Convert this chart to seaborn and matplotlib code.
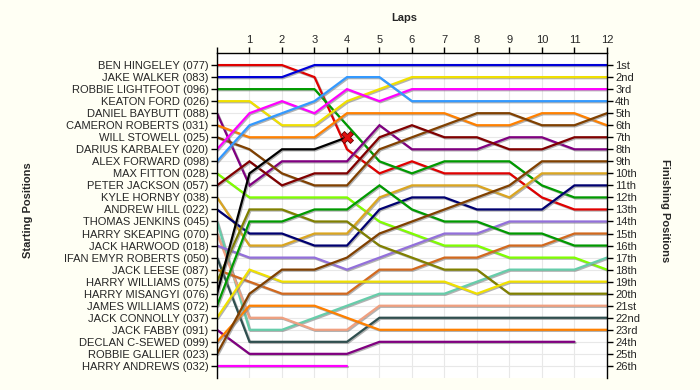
import matplotlib
matplotlib.use("Agg")
import matplotlib.pyplot as plt
import matplotlib.patheffects as pe
import numpy as np
import pandas as pd
import seaborn as sns

laps = list(range(13))

drivers = [
    "BEN HINGELEY (077)", "JAKE WALKER (083)", "ROBBIE LIGHTFOOT (096)", "KEATON FORD (026)",
    "DANIEL BAYBUTT (088)", "CAMERON ROBERTS (031)", "WILL STOWELL (025)", "DARIUS KARBALEY (020)",
    "ALEX FORWARD (098)", "MAX FITTON (028)", "PETER JACKSON (057)", "KYLE HORNBY (038)",
    "ANDREW HILL (022)", "THOMAS JENKINS (045)", "HARRY SKEAPING (070)", "JACK HARWOOD (018)",
    "IFAN EMYR ROBERTS (050)", "JACK LEESE (087)", "HARRY WILLIAMS (075)", "HARRY MISANGYI (076)",
    "JAMES WILLIAMS (072)", "JACK CONNOLLY (037)", "JACK FABBY (091)", "DECLAN C-SEWED (099)",
    "ROBBIE GALLIER (023)", "HARRY ANDREWS (032)",
]

colors = [
    "#e00000", "#0000d8", "#009a00", "#f0e000", "#800080", "#ff8000", "#804000", "#ff00ff",
    "#3399ff", "#80ff00", "#800000", "#daa520", "#000070", "#66cdaa", "#f0a080", "#9370db",
    "#2f4f4f", "#d2691e", "#808000", "#000000", "#009a00", "#f0e000", "#800080", "#ff8000",
    "#804000", "#ff00ff",
]

nan = np.nan
positions = [
    [1, 1, 1, 2, 8, 10, 9, 10, 10, 10, 12, 13, 13],
    [2, 2, 2, 1, 1, 1, 1, 1, 1, 1, 1, 1, 1],
    [3, 3, 3, 3, 6, 9, 10, 9, 9, 9, 11, 12, 12],
    [4, 4, 6, 6, 4, 3, 2, 2, 2, 2, 2, 2, 2],
    [5, 11, 9, 9, 9, 6, 8, 8, 8, 7, 7, 8, 8],
    [6, 7, 7, 7, 5, 5, 5, 5, 6, 6, 5, 5, 6],
    [7, 8, 10, 11, 11, 8, 7, 6, 5, 5, 6, 6, 5],
    [8, 5, 4, 5, 3, 4, 3, 3, 3, 3, 3, 3, 3],
    [9, 6, 5, 4, 2, 2, 4, 4, 4, 4, 4, 4, 4],
    [10, 12, 12, 12, 12, 14, 15, 16, 16, 17, 17, 17, 18],
    [11, 9, 11, 10, 10, 7, 6, 7, 7, 8, 8, 7, 7],
    [12, 16, 16, 15, 15, 12, 11, 11, 11, 12, 10, 10, 10],
    [13, 15, 15, 16, 16, 13, 12, 12, 13, 13, 13, 11, 11],
    [14, 23, 23, 22, 21, 20, 20, 20, 19, 18, 18, 18, 17],
    [15, 22, 22, 23, 23, 21, 21, 21, 21, 21, 21, 21, 21],
    [16, 17, 17, 17, 18, 17, 16, 15, 15, 14, 14, 14, 14],
    [17, 24, 24, 24, 24, 22, 22, 22, 22, 22, 22, 22, 22],
    [18, 19, 20, 20, 20, 18, 18, 17, 17, 16, 16, 15, 15],
    [19, 13, 13, 14, 14, 16, 17, 18, 18, 20, 20, 20, 20],
    [20, 10, 8, 8, 7, nan, nan, nan, nan, nan, nan, nan, nan],
    [21, 14, 14, 13, 13, 11, 13, 14, 14, 15, 15, 16, 16],
    [22, 18, 19, 19, 19, 19, 19, 19, 20, 19, 19, 19, 19],
    [23, 25, 25, 25, 25, 24, 24, 24, 24, 24, 24, 24, nan],
    [24, 21, 21, 21, 22, 23, 23, 23, 23, 23, 23, 23, 23],
    [25, 20, 18, 18, 17, 15, 14, 13, 12, 11, 9, 9, 9],
    [26, 26, 26, 26, 26, nan, nan, nan, nan, nan, nan, nan, nan],
]

finish_labels = ["1st", "2nd", "3rd"] + [f"{i}th" for i in range(4, 21)] + \
    ["21st", "22nd", "23rd", "24th", "25th", "26th"]

# retired driver marked with a cross on the last lap he completed
crash_driver = "HARRY MISANGYI (076)"

rows = []
for d, pos in zip(drivers, positions):
    for lap, p in zip(laps, pos):
        rows.append({"driver": d, "lap": lap, "pos": p})
df = pd.DataFrame(rows).dropna()

sns.set_style("white")
plt.rcParams["font.family"] = ["Liberation Sans", "DejaVu Sans"]

fig = plt.figure(figsize=(7, 3.9), dpi=100, facecolor="#fffff4")
ax = fig.add_axes([0.310, 0.031, 0.557, 0.833])
ax.set_facecolor("white")

sns.lineplot(data=df, x="lap", y="pos", hue="driver", hue_order=drivers,
             palette=dict(zip(drivers, colors)), estimator=None, sort=True,
             linewidth=1.6, legend=False, ax=ax)
for ln in ax.lines:
    ln.set_path_effects([pe.SimpleLineShadow(offset=(0.8, -0.8), shadow_color="#808080", alpha=0.6),
                         pe.Normal()])
    ln.set_solid_joinstyle("miter")

crash = df[df.driver == crash_driver].iloc[-1]
ax.plot(crash["lap"], crash["pos"], marker="X", markersize=9, color="#e01010",
        markeredgecolor="#600000", markeredgewidth=0.6, zorder=5)

ax.set_xlim(0, 12)
ax.set_ylim(27, 0)
ax.set_xticks(laps)
ax.set_xticklabels([""] + [str(i) for i in laps[1:]], fontsize=8)
ax.xaxis.tick_top()
ax.set_yticks(range(1, 27))
ax.set_yticklabels(drivers, fontsize=8)
ax.tick_params(axis="both", length=4, width=1, color="black", direction="out", pad=2)
ax.tick_params(axis="x", top=True, bottom=False)
ax.grid(True, color="#e8e8e8", linewidth=0.8)
ax.set_axisbelow(True)
for s in ["left", "top", "right"]:
    ax.spines[s].set_color("black")
    ax.spines[s].set_linewidth(1)
ax.spines["bottom"].set_visible(False)
ax.set_xlabel("")
ax.set_ylabel("")

ax2 = ax.twinx()
ax2.set_ylim(27, 0)
ax2.set_yticks(range(1, 27))
ax2.set_yticklabels(finish_labels, fontsize=8)
ax2.tick_params(axis="y", length=4, width=1, color="black", direction="out", pad=2)
for s in ["left", "top", "right", "bottom"]:
    ax2.spines[s].set_visible(False)

fig.text(0.578, 0.953, "Laps", ha="center", va="center", fontsize=8, fontweight="bold")
fig.text(0.040, 0.46, "Starting Positions", ha="center", va="center", rotation=90,
         fontsize=8, fontweight="bold")
fig.text(0.950, 0.46, "Finishing Positions", ha="center", va="center", rotation=270,
         fontsize=8, fontweight="bold")

fig.savefig("out.png", dpi=100, facecolor=fig.get_facecolor())
